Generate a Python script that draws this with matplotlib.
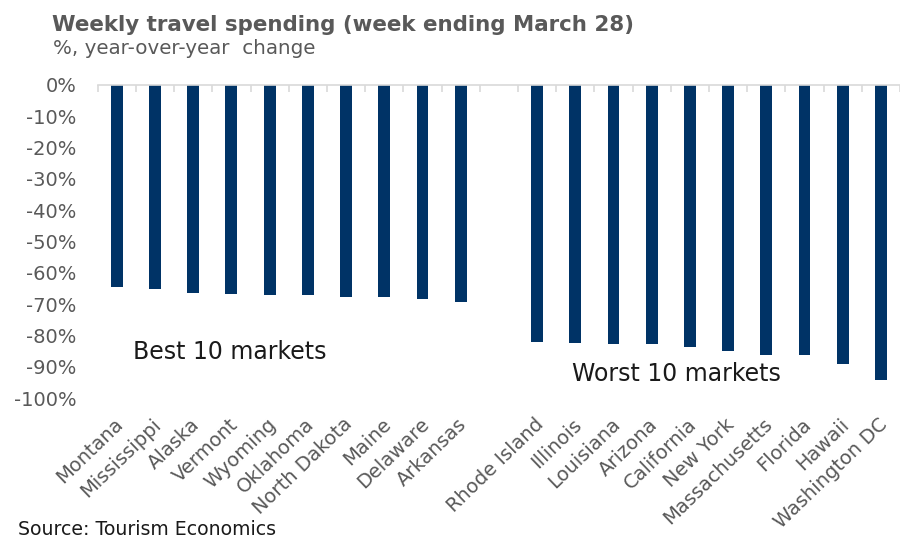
import matplotlib.pyplot as plt
from matplotlib.transforms import ScaledTranslation
import numpy as np

# weekly travel spending, % change vs same week last year
best_states = ["Montana", "Mississippi", "Alaska", "Vermont", "Wyoming",
               "Oklahoma", "North Dakota", "Maine", "Delaware", "Arkansas"]
best_change = [-64.5, -65.2, -66.5, -66.8, -67.1, -67.1, -67.7, -67.7, -68.4, -69.3]

worst_states = ["Rhode Island", "Illinois", "Louisiana", "Arizona", "California",
                "New York", "Massachusetts", "Florida", "Hawaii", "Washington DC"]
worst_change = [-82.1, -82.3, -82.7, -82.9, -83.7, -85.0, -86.3, -86.3, -89.1, -94.2]

y_ticks = list(range(0, -101, -10))

NAVY = "#003366"
GRAY = "#595959"
DARK = "#1a1a1a"

plt.rcParams["font.family"] = ["DejaVu Sans"]

fig = plt.figure(figsize=(9, 5.4), dpi=100)
W, H = 900, 540
left, right, top, bottom = 97.7, 900, 85, 398
ax = fig.add_axes([left / W, 1 - bottom / H, (right - left) / W, (bottom - top) / H])

# one empty slot between the two groups
labels = best_states + [""] + worst_states
values = best_change + [np.nan] + worst_change
x = np.arange(len(labels))

ax.bar(x, values, width=0.31, color=NAVY, zorder=2)

ax.set_xlim(-0.5, 20 + (right - 891) / 38.6)
ax.set_ylim(-100, 0)

for s in ["left", "right", "bottom"]:
    ax.spines[s].set_visible(False)
ax.spines["top"].set_color("#d9d9d9")
ax.spines["top"].set_linewidth(1.2)
ax.spines["top"].set_zorder(3)

ax.set_xticks(x)
ax.set_xticklabels(labels, rotation=44, ha="right", va="top",
                   rotation_mode="anchor", fontsize=14, color=GRAY)
ax.set_xticks(np.arange(-0.5, len(labels), 1), minor=True)
ax.tick_params(axis="x", which="major", length=0, pad=12)
ax.tick_params(axis="x", which="minor", bottom=False, top=True,
               direction="in", length=5, color="#d9d9d9", width=1.2)

# nudge the slanted labels a little to the left
shift = ScaledTranslation(-3 / 100, 0, fig.dpi_scale_trans)
for lbl in ax.get_xticklabels():
    lbl.set_transform(lbl.get_transform() + shift)

ax.set_yticks(y_ticks)
ax.set_yticklabels([f"{t}%" for t in y_ticks], fontsize=14, color=GRAY)
ax.tick_params(axis="y", length=0, pad=15)

fig.text(52 / W, 1 - 31 / H, "Weekly travel spending (week ending March 28)",
         fontsize=15.4, fontweight="bold", color=GRAY, va="baseline", ha="left")
fig.text(53 / W, 1 - 54 / H, "%, year-over-year  change",
         fontsize=14.3, color=GRAY, va="baseline", ha="left")

fig.text(133 / W, 1 - 359 / H, "Best 10 markets", fontsize=17,
         color=DARK, va="baseline", ha="left")
fig.text(572 / W, 1 - 381 / H, "Worst 10 markets", fontsize=17,
         color=DARK, va="baseline", ha="left")

fig.text(18 / W, 1 - 535 / H, "Source: Tourism Economics", fontsize=13.6,
         color=DARK, va="baseline", ha="left")

fig.savefig("out.png", dpi=100)
